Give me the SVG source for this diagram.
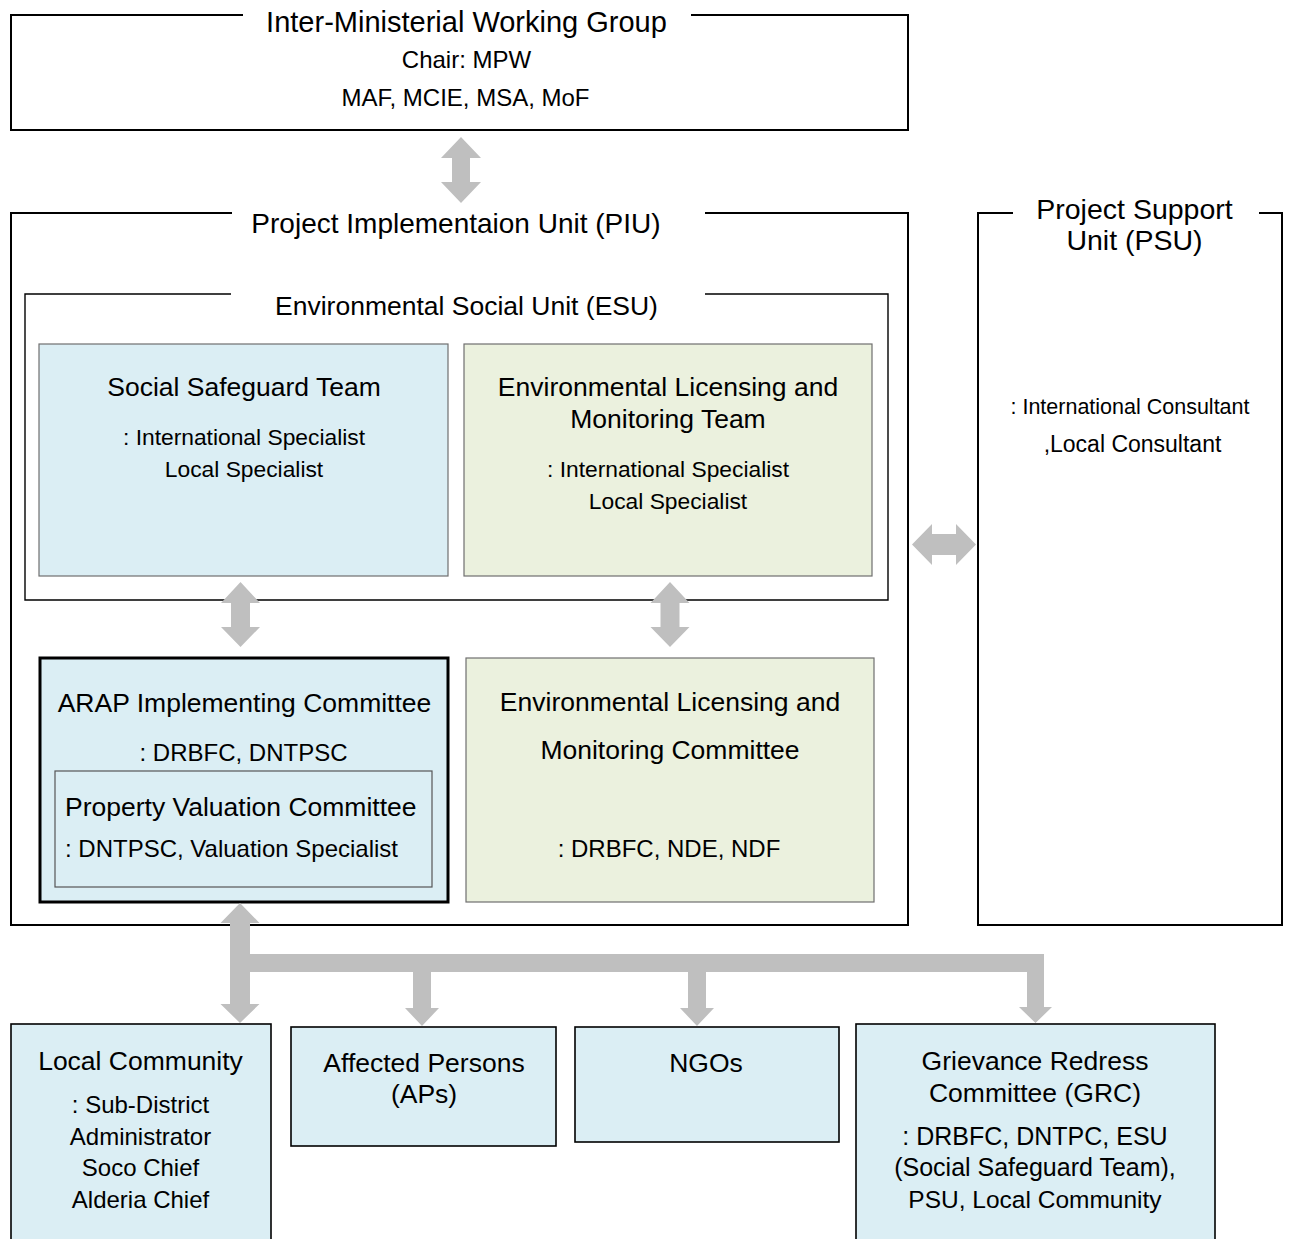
<svg xmlns="http://www.w3.org/2000/svg" width="1290" height="1239" viewBox="0 0 1290 1239">
<style>
text{font-family:"Liberation Sans",Arial,sans-serif;fill:#000;text-anchor:middle}
.h{font-size:26.5px}
.b{font-size:24px}
.frame{fill:none;stroke:#000;stroke-width:2}
.blue{fill:#DBEEF4;stroke:#6f6f6f;stroke-width:1.2}
.green{fill:#EBF1DE;stroke:#6f6f6f;stroke-width:1.2}
.bbox{fill:#DBEEF4;stroke:#000;stroke-width:1.6}
.arr{fill:#BFBFBF;stroke:none}
</style>
<rect width="1290" height="1239" fill="#fff"/>

<g id="imwg">
<path class="frame" d="M243,15 H11 V130 H908 V15 H691"/>
<text x="466.5" y="32" style="font-size:29px">Inter-Ministerial Working Group</text>
<text class="b" x="466.5" y="67.5">Chair: MPW</text>
<text class="b" x="465.5" y="105.5">MAF, MCIE, MSA, MoF</text>
</g>

<g id="piu">
<path class="frame" d="M232,213 H11 V925 H908 V213 H705"/>
<text x="456" y="233" style="font-size:28px">Project Implementaion Unit (PIU)</text>
</g>

<g id="esu">
<path fill="none" stroke="#000" stroke-width="1.4" d="M231,294 H25 V600 H888 V294 H705"/>
<text class="h" x="466.5" y="315">Environmental Social Unit (ESU)</text>
</g>

<g id="social-safeguard-team">
<rect class="blue" x="39" y="344" width="409" height="232"/>
<text class="h" x="244" y="396">Social Safeguard Team</text>
<text x="244" y="444.5" style="font-size:22.8px">: International Specialist</text>
<text x="244" y="476.5" style="font-size:22.8px">Local Specialist</text>
</g>

<g id="env-team">
<rect class="green" x="464" y="344" width="408" height="232"/>
<text class="h" x="668" y="396">Environmental Licensing and</text>
<text class="h" x="668" y="428">Monitoring Team</text>
<text x="668" y="476.5" style="font-size:22.8px">: International Specialist</text>
<text x="668" y="508.5" style="font-size:22.8px">Local Specialist</text>
</g>

<g id="arap">
<rect x="40" y="658" width="408" height="244" fill="#DBEEF4" stroke="#000" stroke-width="3"/>
<text class="h" x="244.5" y="712">ARAP Implementing Committee</text>
<text class="b" x="243.5" y="760.5">: DRBFC, DNTPSC</text>
</g>

<g id="property-valuation">
<rect x="55" y="771" width="377" height="116" fill="none" stroke="#555" stroke-width="1.2"/>
<text class="h" x="65" y="816" style="text-anchor:start">Property Valuation Committee</text>
<text class="b" x="65" y="856.5" style="text-anchor:start">: DNTPSC, Valuation Specialist</text>
</g>

<g id="env-committee">
<rect class="green" x="466" y="658" width="408" height="244"/>
<text class="h" x="670" y="711">Environmental Licensing and</text>
<text class="h" x="670" y="759">Monitoring Committee</text>
<text class="b" x="669" y="856.5">: DRBFC, NDE, NDF</text>
</g>

<g id="psu">
<path class="frame" d="M1013,213 H978 V925 H1282 V213 H1259"/>
<text x="1134.5" y="219" style="font-size:28.5px">Project Support</text>
<text x="1134.5" y="250" style="font-size:28.5px">Unit (PSU)</text>
<text x="1130" y="413.5" style="font-size:21.5px">: International Consultant</text>
<text x="1132.5" y="452" style="font-size:23px">,Local Consultant</text>
</g>

<g id="local-community">
<rect class="bbox" x="11" y="1024" width="260" height="230"/>
<text class="h" x="140.5" y="1070">Local Community</text>
<text class="b" x="140.5" y="1112.5">: Sub-District</text>
<text class="b" x="140.5" y="1144.5">Administrator</text>
<text class="b" x="140.5" y="1175.5">Soco Chief</text>
<text class="b" x="140.5" y="1207.5">Alderia Chief</text>
</g>

<g id="affected-persons">
<rect class="bbox" x="291" y="1027" width="265" height="119"/>
<text class="h" x="424" y="1072">Affected Persons</text>
<text class="h" x="424" y="1103">(APs)</text>
</g>

<g id="ngos">
<rect class="bbox" x="575" y="1027" width="264" height="115"/>
<text class="h" x="706" y="1072">NGOs</text>
</g>

<g id="grc">
<rect class="bbox" x="856" y="1024" width="359" height="230"/>
<text class="h" x="1035" y="1070">Grievance Redress</text>
<text class="h" x="1035" y="1102">Committee (GRC)</text>
<text x="1035" y="1145" style="font-size:25px">: DRBFC, DNTPC, ESU</text>
<text x="1035" y="1176" style="font-size:25px">(Social Safeguard Team),</text>
<text x="1035" y="1208" style="font-size:24.5px">PSU, Local Community</text>
</g>

<g id="connectors">
<!-- IMWG <-> PIU -->
<polygon class="arr" points="461,137 481,158 470,158 470,182 481,182 461,203 441,182 452,182 452,158 441,158"/>
<!-- Social team <-> ARAP -->
<polygon class="arr" points="240.5,582 260,603 250,603 250,627 260,627 240.5,647 221,627 231,627 231,603 221,603"/>
<!-- Env team <-> Env committee -->
<polygon class="arr" points="670,582 689.5,603 679.5,603 679.5,627 689.5,627 670,647 650.5,627 660.5,627 660.5,603 650.5,603"/>
<!-- PIU <-> PSU -->
<polygon class="arr" points="912,544.5 932,524 932,534 956,534 956,524 976,544.5 956,565 956,555 932,555 932,565"/>
<!-- ARAP <-> Local Community -->
<polygon class="arr" points="240,903 259.5,923 250,923 250,1004 259.5,1004 240,1023 220.5,1004 230,1004 230,923 220.5,923"/>
<!-- distribution bar -->
<rect class="arr" x="249" y="954" width="795" height="18"/>
<polygon class="arr" points="413,960 431,960 431,1008 439,1008 422,1026 405,1008 413,1008"/>
<polygon class="arr" points="688,960 706,960 706,1008 714,1008 697,1026 680,1008 688,1008"/>
<polygon class="arr" points="1027,960 1044,960 1044,1007 1052,1007 1035.5,1023 1019,1007 1027,1007"/>
</g>
</svg>
